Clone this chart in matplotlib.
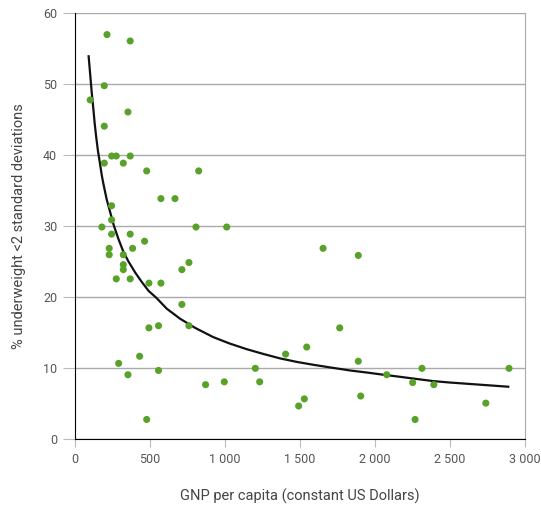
import matplotlib
matplotlib.use("Agg")
import matplotlib.pyplot as plt
from matplotlib.ticker import FuncFormatter

# GNP per capita (US$) and % underweight
gnp = [212, 367, 194, 100, 352, 194, 243, 274, 367, 194, 321, 477, 824,
       572, 666, 243, 243, 178, 806, 1011, 243, 367, 463, 227, 227, 383,
       321, 321, 321, 274, 367, 492, 572, 712, 759, 712, 492, 556, 759,
       430, 290, 352, 556, 477, 870, 995, 1202, 1231, 1404, 1491, 1654,
       1889, 1765, 1545, 1889, 1529, 1905, 2079, 2314, 2252, 2393, 2268,
       2740, 2895]
underweight = [57.0, 56.1, 49.8, 47.8, 46.1, 44.1, 39.9, 39.9, 39.9, 38.9,
               38.9, 37.8, 37.8, 33.9, 33.9, 32.9, 30.9, 29.9, 29.9, 29.9,
               28.9, 28.9, 27.9, 26.9, 26.0, 26.9, 26.0, 24.6, 23.9, 22.6,
               22.6, 22.0, 22.0, 23.9, 24.9, 19.0, 15.7, 16.0, 16.0, 11.7,
               10.7, 9.1, 9.7, 2.8, 7.7, 8.1, 10.0, 8.1, 12.0, 4.7, 26.9,
               25.9, 15.7, 13.0, 11.0, 5.7, 6.1, 9.1, 10.0, 8.0, 7.7, 2.8,
               5.1, 10.0]

# trend curve
trend_x = [89, 100, 110, 120, 130, 140, 152, 165, 178, 190, 210, 232, 258,
           287, 320, 354, 400, 443, 490, 543, 611, 699, 800, 921, 1030,
           1144, 1260, 1367, 1480, 1589, 1710, 1834, 1950, 2056, 2170,
           2279, 2390, 2501, 2700, 2897]
trend_y = [54.1, 51.4, 48.9, 46.8, 44.5, 42.6, 40.6, 38.9, 37.1, 35.8, 33.8,
           32.1, 30.1, 28.3, 26.5, 25.1, 23.5, 22.2, 20.9, 19.9, 18.4, 17.0,
           15.7, 14.4, 13.5, 12.7, 12.0, 11.4, 10.9, 10.5, 10.1, 9.7, 9.4,
           9.1, 8.8, 8.5, 8.2, 8.0, 7.7, 7.4]

xticks = [0, 500, 1000, 1500, 2000, 2500, 3000]
yticks = [0, 10, 20, 30, 40, 50, 60]

plt.rcParams["font.family"] = ["Roboto", "DejaVu Sans"]
txt = "#555555"

fig = plt.figure(figsize=(5.41, 5.05), dpi=100)
ax = fig.add_axes([0.139, 0.130, 0.831, 0.8437])

ax.plot(trend_x, trend_y, color="#111111", lw=1.6, zorder=3,
        solid_capstyle="butt", solid_joinstyle="round")
ax.scatter(gnp, underweight, s=26, color="#58a22a", edgecolor="none",
           zorder=4)

ax.set_xlim(0, 3000)
ax.set_ylim(0, 60)
ax.set_xticks(xticks)
ax.set_yticks(yticks)
ax.xaxis.set_major_formatter(
    FuncFormatter(lambda v, p: f"{int(v):,}".replace(",", " ")))

ax.grid(True, axis="y", color="#aaaaaa", lw=1.0)
ax.set_axisbelow(True)
ax.spines["top"].set_visible(False)
ax.spines["right"].set_color("#aaaaaa")
ax.spines["left"].set_color("black")
ax.spines["bottom"].set_color("black")
ax.tick_params(axis="x", length=6, color="#bbbbbb", labelcolor=txt,
               labelsize=9, pad=4)
ax.tick_params(axis="y", length=9, color="#bbbbbb", labelcolor=txt,
               labelsize=9, pad=4)

ax.set_xlabel("GNP per capita (constant US Dollars)", color="#444444",
              fontsize=10.5, labelpad=16)
ax.set_ylabel("% underweight <2 standard deviations", color="#444444",
              fontsize=10.5, labelpad=12)

fig.savefig("out.png", dpi=100)
